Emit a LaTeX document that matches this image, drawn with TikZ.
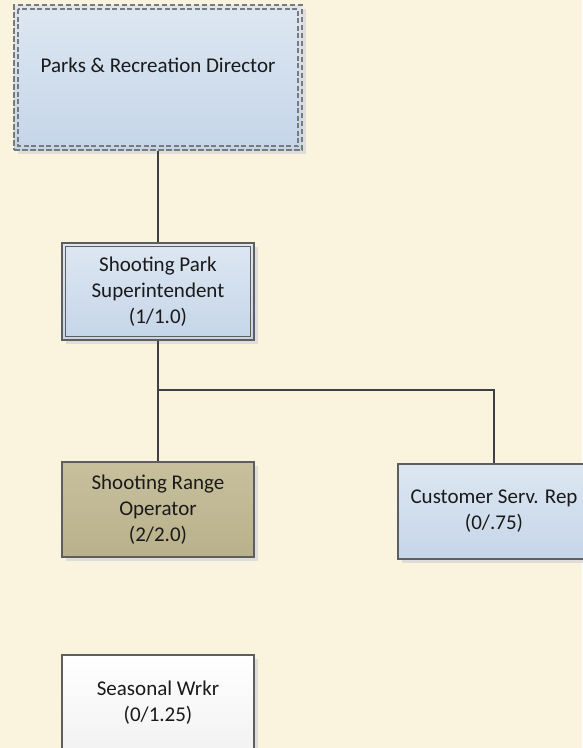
\documentclass[tikz,border=0pt]{standalone}
\usepackage{fontspec}
\setmainfont{Carlito}
\usetikzlibrary{calc,shadows}
\definecolor{paper}{HTML}{FAF3DE}
\definecolor{bluetop}{HTML}{DDE7F2}
\definecolor{bluebot}{HTML}{C5D5E8}
\definecolor{tantop}{HTML}{C8C09D}
\definecolor{tanbot}{HTML}{B8B18B}
\definecolor{edge}{HTML}{5E5E5E}
\definecolor{dashedge}{HTML}{7A7A7A}
\definecolor{wire}{HTML}{404040}
\definecolor{ink}{HTML}{1A1A1A}
\tikzset{
  box/.style={rectangle, draw=edge, line width=1.3pt, minimum width=192pt,
    minimum height=95pt, inner sep=0pt, align=center, text=ink,
    font=\fontsize{21}{25.8}\selectfont,
    drop shadow={shadow xshift=4pt, shadow yshift=-4pt, fill=black!16, opacity=.75}},
  bluebox/.style={box, top color=bluetop, bottom color=bluebot},
  tanbox/.style={box, top color=tantop, bottom color=tanbot},
  whitebox/.style={box, top color=white, bottom color=black!5},
  dashbox/.style={bluebox, draw=dashedge, line width=2pt, dash pattern=on 5.5pt off 2.5pt},
  innerframe/.style={draw=edge, line width=1.3pt},
  innerdash/.style={draw=dashedge, line width=1.5pt, dash pattern=on 5pt off 2.5pt},
  wireline/.style={draw=wire, line width=2.5pt},
  label/.style={align=center, text=ink, font=\fontsize{21}{25.8}\selectfont}
}
\begin{document}
\begin{tikzpicture}[x=1pt, y=-1pt]
  \useasboundingbox (0,0) rectangle (582,748);
  \fill[paper] (0,0) rectangle (582,748);

  % director, with a doubled dashed frame
  \node[dashbox, minimum width=288pt, minimum height=145pt] (dir) at (158,77.5) {};
  \draw[innerdash] ($(dir.north west)+(5,5)$) rectangle ($(dir.south east)+(-5,-5)$);
  \node[label] (dirtext) at (158,65) {Parks \& Recreation Director};

  % superintendent, with a doubled solid frame
  \node[bluebox, minimum height=97pt] (sup) at (158,291.5)
    {Shooting Park\\Superintendent\\(1/1.0)};
  \draw[innerframe] ($(sup.north west)+(4,4)$) rectangle ($(sup.south east)+(-4,-4)$);

  \node[tanbox] (sro) at (158,509.5) {Shooting Range\\Operator\\(2/2.0)};
  \node[bluebox] (csr) at (494,511.5) {Customer Serv. Rep\\(0/.75)};
  \node[whitebox] (sw) at (158,702.5) {Seasonal Wrkr\\(0/1.25)};

  % reporting lines
  \coordinate (bus) at (158,390);
  \draw[wireline] (dir.south) -- (sup.north);
  \draw[wireline] (sup.south) -- (bus) -- (bus -| csr.north) -- (csr.north);
  \draw[wireline] (bus) -- (sro.north);
\end{tikzpicture}
\end{document}
